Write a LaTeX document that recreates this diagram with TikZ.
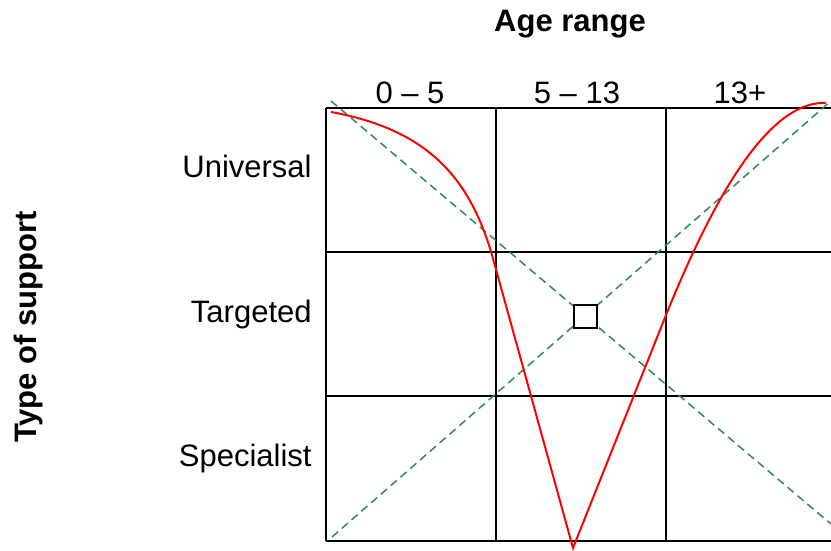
\documentclass[tikz,border=0pt]{standalone}
\usepackage{fontspec}
\setmainfont{Liberation Sans}
\usetikzlibrary{positioning}
\definecolor{diaggreen}{HTML}{2E8B57}
\definecolor{curvered}{HTML}{FF0000}

\begin{document}
\begin{tikzpicture}[x=0.5pt, y=-0.5pt, every node/.style={font=\fontsize{15.5}{18}\selectfont, inner sep=0pt}]
        \useasboundingbox (0,0) rectangle (831,551);
        % grid
        \foreach \y in {108,252,396,541}{\draw[line width=1pt] (326,\y) -- (831,\y);}
        \foreach \x in {326,496,666}{\draw[line width=1pt] (\x,108) -- (\x,541);}
        % axis titles and labels
        \node[anchor=base, font=\fontsize{15.5}{18}\selectfont\bfseries] (age) at (570,32) {Age range};
        \node[anchor=base, rotate=90, font=\fontsize{15.5}{18}\selectfont\bfseries] (type) at (36,327) {Type of support};
        \node[anchor=base] (c1) at (410,104) {0 – 5};
        \node[anchor=base] (c2) at (577,104) {5 – 13};
        \node[anchor=base] (c3) at (740,104) {13+};
        \node[anchor=base east] (r1) at (312,177) {Universal};
        \node[anchor=base east] (r2) at (312,322) {Targeted};
        \node[anchor=base east] (r3) at (312,466) {Specialist};
        % diagonals
        \coordinate (tl) at (331,101);
        \coordinate (br) at (831,524);
        \coordinate (bl) at (332,537);
        \coordinate (tr) at (831,101);
        \draw[diaggreen, line width=0.75pt, dash pattern=on 4pt off 2.5pt] (tl) -- (br);
        \draw[diaggreen, line width=0.75pt, dash pattern=on 4pt off 2.5pt] (bl) -- (tr);
        \node[draw, fill=white, line width=1pt, minimum size=11.5pt] (mid) at (585,316) {};
        % curve
        \draw[curvered, line width=1pt] (331,112) .. controls (430,130) and (470,180) .. (492,255) -- (573,548) -- (662,325) .. controls (700,230) and (760,100) .. (826,103);
      \end{tikzpicture}
\end{document}
